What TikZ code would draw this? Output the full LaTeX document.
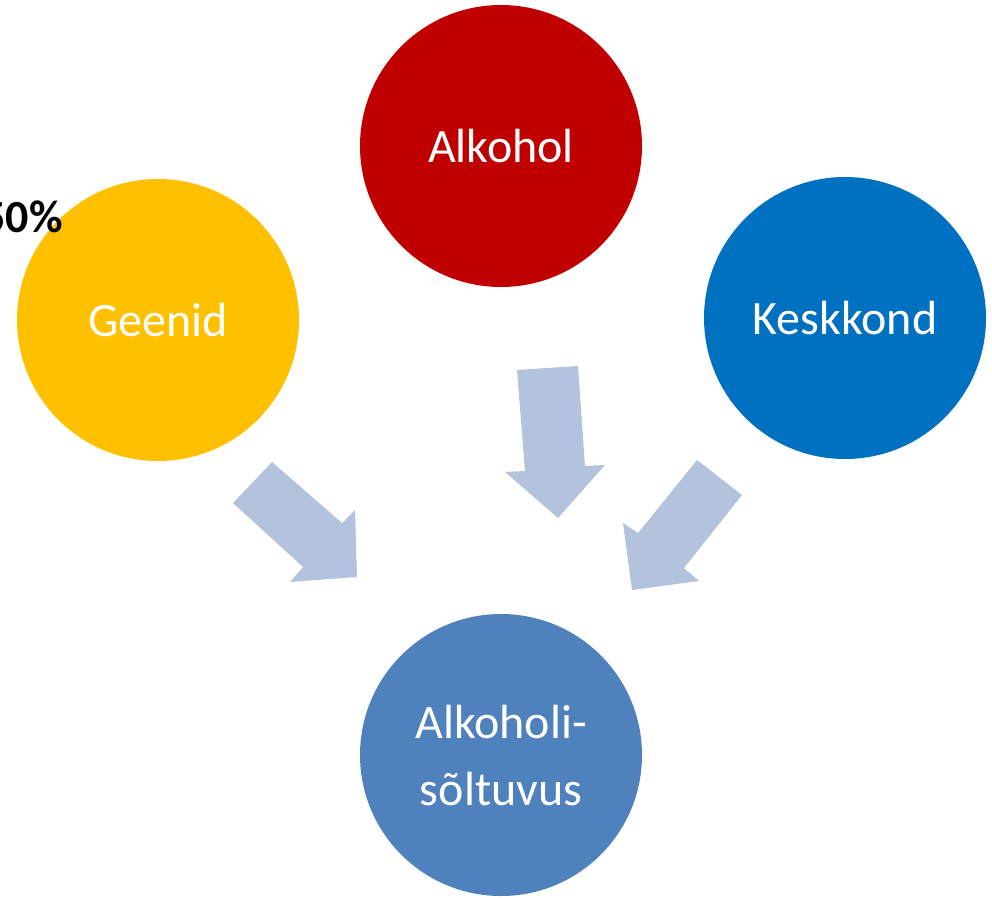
\documentclass[tikz,border=0pt]{standalone}
\usepackage{fontspec}
\setmainfont{Carlito}
\usetikzlibrary{shapes}

\definecolor{geenicol}{HTML}{FFC000}
\definecolor{alkocol}{HTML}{C00000}
\definecolor{keskcol}{HTML}{0070C0}
\definecolor{soltcol}{HTML}{4F81BD}
\definecolor{noolcol}{HTML}{B3C3DE}

\tikzset{
  ring/.style={circle, minimum size=282pt, inner sep=0pt, text=white,
    font=\fontsize{48}{67}\selectfont, align=center},
  nool/.style={fill=noolcol, draw=none}
}

\begin{document}
\begin{tikzpicture}[x=1pt, y=-1pt]

\useasboundingbox (0,0) rectangle (992,897); %% page size

\node[ring, fill=alkocol] (alkohol) at (501,146) {Alkohol};
\node[ring, fill=geenicol] (geenid) at (158,320) {Geenid};
\node[ring, fill=keskcol] (keskkond) at (845,318) {Keskkond};
\node[ring, fill=soltcol] (soltuvus) at (501,755) {Alkoholi-\\s\~oltuvus};

\node[anchor=base east, inner sep=0pt, font=\fontsize{46}{50}\selectfont\bfseries]
  (protsent) at (63,232) {50\%};

%% block arrows
\fill[nool] (233,503) -- (272,462) -- (342,523) -- (355,510)
  -- (357,577) -- (290,582) -- (303,567) -- cycle;
\fill[nool] (517,370) -- (578,366) -- (585,466) -- (605,465)
  -- (558,518) -- (505,472) -- (525,471) -- cycle;
\fill[nool] (697,460) -- (742,495) -- (684,568) -- (699,581)
  -- (632,590) -- (623,523) -- (638,533) -- cycle;

\end{tikzpicture}
\end{document}
